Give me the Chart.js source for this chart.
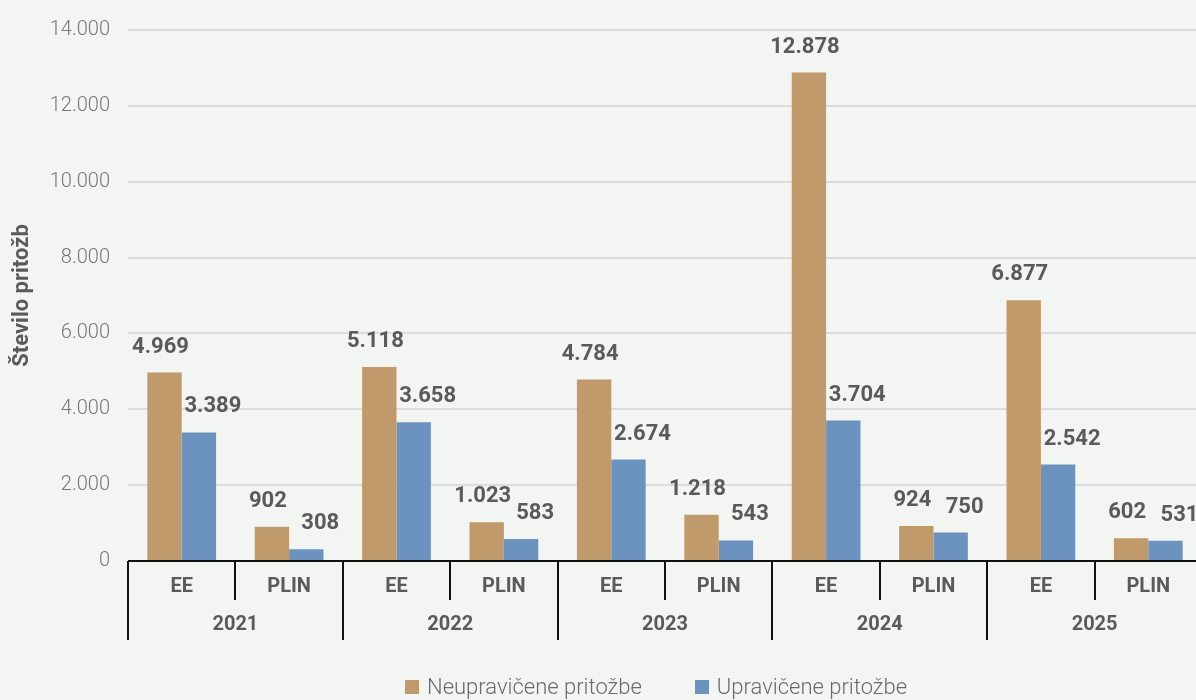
<!DOCTYPE html>
<html>
<head>
<meta charset="utf-8">
<script src="https://cdn.jsdelivr.net/npm/chart.js@4.4.1/dist/chart.umd.min.js"></script>
<style>
  html, body { margin: 0; padding: 0; background: #f2f5f2; overflow: hidden; }
  #wrap { position: relative; width: 1196px; height: 700px; overflow: hidden; }
  #legend {
    position: absolute; left: 405px; top: 674px;
    display: flex; align-items: center;
    font-family: Roboto, sans-serif; font-weight: 300; font-size: 22px; color: #6a6a6a;
  }
  #legend span.box { display: inline-block; width: 14px; height: 14px; margin-right: 8px; }
  #legend .item { display: flex; align-items: center; margin-right: 53px; }
</style>
</head>
<body>
<div id="wrap">
  <canvas id="chart" width="1202" height="700"></canvas>
  <div id="legend"></div>
</div>
<script>
const years = ['2021', '2022', '2023', '2024', '2025'];
const types = ['EE', 'PLIN'];
const categories = ['EE', 'PLIN', 'EE', 'PLIN', 'EE', 'PLIN', 'EE', 'PLIN', 'EE', 'PLIN'];
const neupraviceneValues = [4969, 902, 5118, 1023, 4784, 1218, 12878, 924, 6877, 602];
const upraviceneValues = [3389, 308, 3658, 583, 2674, 543, 3704, 750, 2542, 531];
const seriesNames = ['Neupravičene pritožbe', 'Upravičene pritožbe'];
const yTicks = [0, 2000, 4000, 6000, 8000, 10000, 12000, 14000];

const colors = ['#c19a6b', '#6c93c0'];
const labelShift = [-4, 14]; // value labels sit a bit off the bar centre
const textGrey = '#5a5a5a';

function fmt(v) {
  return String(v).replace(/\B(?=(\d{3})+(?!\d))/g, '.');
}

// bold value labels above the bars
const valueLabels = {
  id: 'valueLabels',
  afterDatasetsDraw(chart) {
    const ctx = chart.ctx;
    ctx.save();
    ctx.font = 'bold 22px Roboto';
    ctx.fillStyle = textGrey;
    ctx.textAlign = 'center';
    ctx.textBaseline = 'alphabetic';
    chart.data.datasets.forEach((ds, di) => {
      chart.getDatasetMeta(di).data.forEach((bar, i) => {
        ctx.fillText(fmt(ds.data[i]), bar.x + labelShift[di], bar.y - 20);
      });
    });
    ctx.restore();
  }
};

// axis line and the grouping separators below it
const groupLines = {
  id: 'groupLines',
  afterDraw(chart) {
    const ctx = chart.ctx;
    const xs = chart.scales.x;
    const area = chart.chartArea;
    const half = (xs.getPixelForTick(1) - xs.getPixelForTick(0)) / 2;
    ctx.save();
    ctx.strokeStyle = '#111';
    ctx.lineWidth = 2;
    ctx.beginPath();
    ctx.moveTo(area.left, area.bottom);
    ctx.lineTo(area.right, area.bottom);
    ctx.stroke();
    for (let i = 0; i < categories.length; i++) {
      const x = Math.round(xs.getPixelForTick(i) - half);
      const len = i % 2 === 0 ? 79 : 39;
      ctx.beginPath();
      ctx.moveTo(x, area.bottom);
      ctx.lineTo(x, area.bottom + len);
      ctx.stroke();
    }
    ctx.restore();
  }
};

const chart = new Chart(document.getElementById('chart'), {
  type: 'bar',
  data: {
    labels: categories,
    datasets: [
      { label: seriesNames[0], data: neupraviceneValues, backgroundColor: colors[0] },
      { label: seriesNames[1], data: upraviceneValues, backgroundColor: colors[1] }
    ]
  },
  options: {
    responsive: false,
    animation: false,
    layout: { padding: { top: 20, left: 0, right: 0, bottom: 59 } },
    categoryPercentage: 0.64,
    barPercentage: 1.0,
    plugins: {
      legend: { display: false },
      tooltip: { enabled: false }
    },
    scales: {
      y: {
        min: 0,
        max: 14000,
        afterBuildTicks: s => { s.ticks = yTicks.map(v => ({ value: v })); },
        afterFit: s => { s.width = 128; },
        border: { display: false },
        grid: { color: '#dcdcdc', lineWidth: 2, drawTicks: false },
        ticks: {
          padding: 18,
          color: '#777',
          font: { family: 'Roboto', weight: '300', size: 20 },
          callback: v => fmt(v)
        },
        title: {
          display: true,
          text: 'Število pritožb',
          color: textGrey,
          font: { family: 'Roboto', weight: 'bold', size: 22 },
          padding: { top: 9, bottom: 0 }
        }
      },
      x: {
        offset: true,
        afterFit: s => { s.height = 40; },
        border: { display: false },
        grid: { display: false, drawTicks: false },
        ticks: {
          padding: 14,
          color: textGrey,
          maxRotation: 0,
          autoSkip: false,
          font: { family: 'Roboto', weight: 'bold', size: 20 }
        }
      },
      x2: {
        type: 'category',
        labels: years,
        position: 'bottom',
        offset: true,
        afterFit: s => { s.height = 40; },
        border: { display: false },
        grid: { display: false, drawTicks: false },
        ticks: {
          padding: 12,
          color: textGrey,
          maxRotation: 0,
          autoSkip: false,
          font: { family: 'Roboto', weight: 'bold', size: 20 }
        }
      }
    }
  },
  plugins: [valueLabels, groupLines]
});

const legend = document.getElementById('legend');
seriesNames.forEach((name, i) => {
  const item = document.createElement('div');
  item.className = 'item';
  item.innerHTML = '<span class="box" style="background:' + colors[i] + '"></span>' + name;
  legend.appendChild(item);
});
</script>
</body>
</html>
